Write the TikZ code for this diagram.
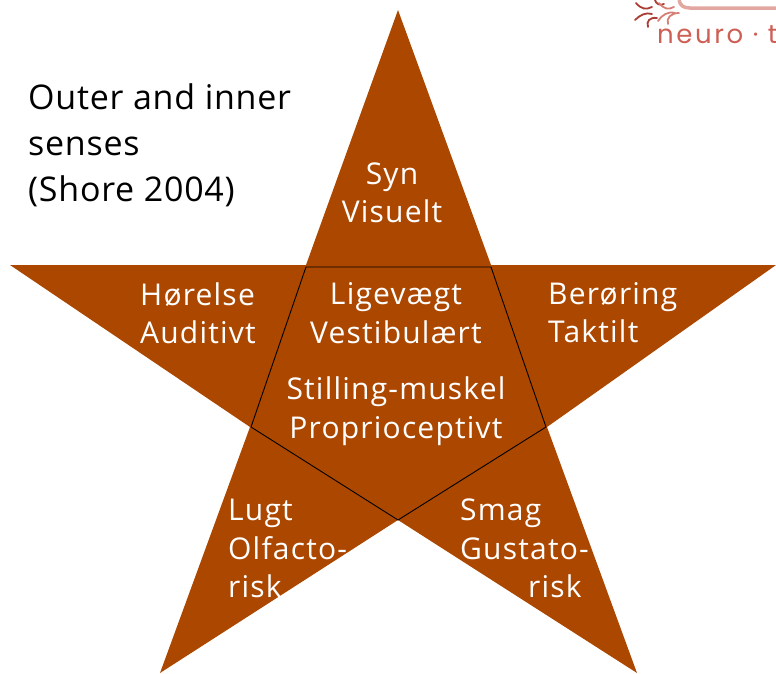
\documentclass[tikz,border=0pt]{standalone}
\usepackage{fontspec}
\setmainfont{Open Sans}
\newfontfamily\lblfont[LetterSpace=4]{Open Sans}
\newfontfamily\titlefont[LetterSpace=2.2]{Open Sans}
\newfontfamily\logofont[LetterSpace=10]{Poppins}
\definecolor{starbrown}{RGB}{172,71,0}
\definecolor{logored}{RGB}{205,95,85}
\definecolor{logodark}{RGB}{170,60,50}
\tikzset{
  x=1pt,y=-1pt,
  lbl/.style={text=white,font=\lblfont\fontsize{30}{38.5}\selectfont,inner sep=0pt,align=center},
  lbll/.style={lbl,align=left,anchor=north west},
  title/.style={text=black,font=\titlefont\fontsize{34}{46}\selectfont,inner sep=0pt,align=left,anchor=north west},
}
\begin{document}
\begin{tikzpicture}
\useasboundingbox (0,0) rectangle (776,673);
\fill[starbrown] (398,10) -- (491,265) -- (776,265) -- (547,427) -- (637,673) -- (398,520) -- (160,673) -- (250,427) -- (10,265) -- (306,265) -- cycle;
\coordinate (p1) at (306,267);
\coordinate (p2) at (491,267);
\coordinate (p3) at (546,427);
\coordinate (p4) at (398,520);
\coordinate (p5) at (251,427);
\draw[black,line width=0.9pt,line join=miter] (p1) -- (p2) -- (p3) -- (p4) -- (p5) -- cycle;
\node[title] (t) at (28,83) {Outer and inner\\senses\\(Shore 2004)};
\node[lbl] (syn) at (392,193) {Syn\\Visuelt};
\node[lbll] (hor) at (140,282) {Hørelse\\Auditivt};
\node[lbll] (ber) at (548,282) {Berøring\\Taktilt};
\node[lbl] (lig) at (396,313) {Ligevægt\\Vestibulært};
\node[lbl] (sti) at (396,411) {Stilling-muskel\\Proprioceptivt};
\node[lbll] (lug) at (228,499) {Lugt\\Olfacto-\\risk};
\node[lbll] (sma) at (460,499) {Smag\\Gustato-\\\hspace*{68pt}risk};
\begin{scope}
\clip (630,0) rectangle (776,50);
\draw[logored!55,line width=3.5pt] (679,0) .. controls (680,5) and (683,8) .. (690,8) -- (776,8);
\draw[logodark,line width=1.8pt,line cap=round] (636,3) .. controls (641,9) and (646,10) .. (652,7) (652,14) .. controls (646,12) and (640,15) .. (635,20) (648,27) .. controls (646,21) and (650,17) .. (657,18) (655,0) .. controls (656,4) and (660,6) .. (664,4);
\draw[logored!80,line width=1.8pt,line cap=round] (659,3) .. controls (664,9) and (668,10) .. (674,7) (675,13) .. controls (668,11) and (662,15) .. (658,21) (668,24) .. controls (666,18) and (671,13) .. (679,13);
\node[text=logored,font=\logofont\fontsize{26}{26}\selectfont,inner sep=0pt,anchor=base west] (logo) at (657,43) {neuro · t};
\end{scope}
\end{tikzpicture}
\end{document}
